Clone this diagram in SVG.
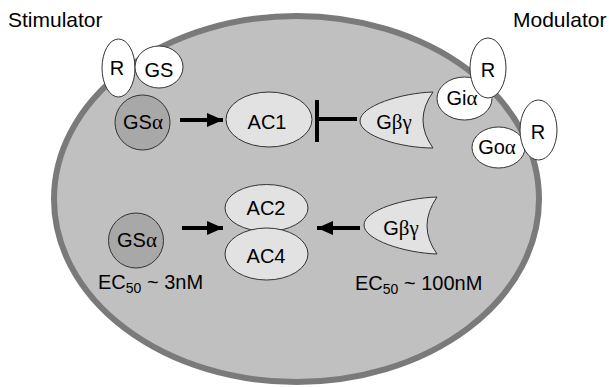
<svg xmlns="http://www.w3.org/2000/svg" width="609" height="387" viewBox="0 0 609 387">
  <style>
    text { font-family: "Liberation Sans", Arial, sans-serif; font-size: 20px; fill: #000; text-anchor: middle; }
    .head { font-size: 21px; text-anchor: start; }
    .ec { text-anchor: start; }
    .sub { font-size: 14px; }
    .gr { font-family: "Liberation Serif", "Times New Roman", serif; font-size: 21px; }
    .node { stroke: #333; stroke-width: 1; }
    .white { fill: #fff; }
    .gsa { fill: #a8a8a8; }
    .ac { fill: #e2e2e2; }
    .link { stroke: #000; stroke-width: 4; fill: none; }
  </style>
  <defs>
    <marker id="head" viewBox="0 0 16 14" refX="16" refY="7" markerWidth="16" markerHeight="14" markerUnits="userSpaceOnUse" orient="auto">
      <path d="M0,0 L16,7 L0,14 Z" fill="#000"/>
    </marker>
  </defs>

  <!-- cell membrane -->
  <ellipse id="cell" cx="296.5" cy="199" rx="242.5" ry="183" fill="#c0c0c0" stroke="#7a7a7a" stroke-width="6"/>

  <text class="head" x="8" y="27">Stimulator</text>
  <text class="head" x="513" y="27">Modulator</text>

  <!-- stimulator receptor complex -->
  <g id="r-stim">
    <ellipse class="node white" cx="118.5" cy="68" rx="16.5" ry="29"/>
    <text x="117" y="75">R</text>
  </g>
  <g id="gs">
    <ellipse class="node white" cx="159" cy="67" rx="24" ry="21"/>
    <text x="159" y="77">GS</text>
  </g>
  <g id="gsa-1">
    <circle class="node gsa" cx="142.5" cy="122.5" r="27.5"/>
    <text x="143" y="129">GS<tspan class="gr">α</tspan></text>
  </g>
  <g id="ac1">
    <ellipse class="node ac" cx="269" cy="119.5" rx="43" ry="27.5"/>
    <text x="267" y="129">AC1</text>
  </g>
  <g id="gbg-1">
    <path class="node ac" d="M433,92 C401,93 360,106 360,121 C360,136 401,148 433,148 Q413,120 433,92 Z"/>
    <text x="394" y="129">G<tspan class="gr">βγ</tspan></text>
  </g>

  <!-- modulator receptors -->
  <g id="gia">
    <ellipse class="node white" cx="464.5" cy="98.5" rx="27.5" ry="21.5"/>
    <text x="462" y="105">Gi<tspan class="gr">α</tspan></text>
  </g>
  <g id="r-gi">
    <ellipse class="node white" cx="488" cy="68" rx="18" ry="30"/>
    <text x="488" y="77">R</text>
  </g>
  <g id="goa">
    <ellipse class="node white" cx="498.5" cy="147.5" rx="26.5" ry="20.5"/>
    <text x="497" y="154">Go<tspan class="gr">α</tspan></text>
  </g>
  <g id="r-go">
    <ellipse class="node white" cx="538.5" cy="130" rx="18.5" ry="30"/>
    <text x="538" y="139">R</text>
  </g>

  <!-- lower pathway -->
  <g id="gsa-2">
    <circle class="node gsa" cx="136" cy="240.5" r="27.5"/>
    <text x="137" y="247">GS<tspan class="gr">α</tspan></text>
  </g>
  <g id="ac2">
    <ellipse class="node ac" cx="266.5" cy="208" rx="41.5" ry="23.5"/>
    <text x="266" y="215">AC2</text>
  </g>
  <g id="ac4">
    <ellipse class="node ac" cx="266.5" cy="254" rx="41.5" ry="26"/>
    <text x="266" y="263">AC4</text>
  </g>
  <g id="gbg-2">
    <path class="node ac" d="M437,197 C405,198 364,210 364,225 C364,240 405,253 437,254 Q417,226 437,197 Z"/>
    <text x="401" y="235">G<tspan class="gr">βγ</tspan></text>
  </g>

  <text class="ec" x="98" y="289">EC<tspan class="sub" dy="4">50</tspan><tspan dy="-4"> ~ 3nM</tspan></text>
  <text class="ec" x="355" y="290">EC<tspan class="sub" dy="4">50</tspan><tspan dy="-4"> ~ 100nM</tspan></text>

  <!-- connectors -->
  <g id="connectors">
    <line class="link" x1="180" y1="120" x2="223" y2="120" marker-end="url(#head)"/>
    <line class="link" x1="357" y1="119" x2="317" y2="119"/>
    <line class="link" x1="317" y1="100" x2="317" y2="142"/>
    <line class="link" x1="182" y1="228" x2="223" y2="228" marker-end="url(#head)"/>
    <line class="link" x1="360" y1="228" x2="317" y2="228" marker-end="url(#head)"/>
  </g>
</svg>
